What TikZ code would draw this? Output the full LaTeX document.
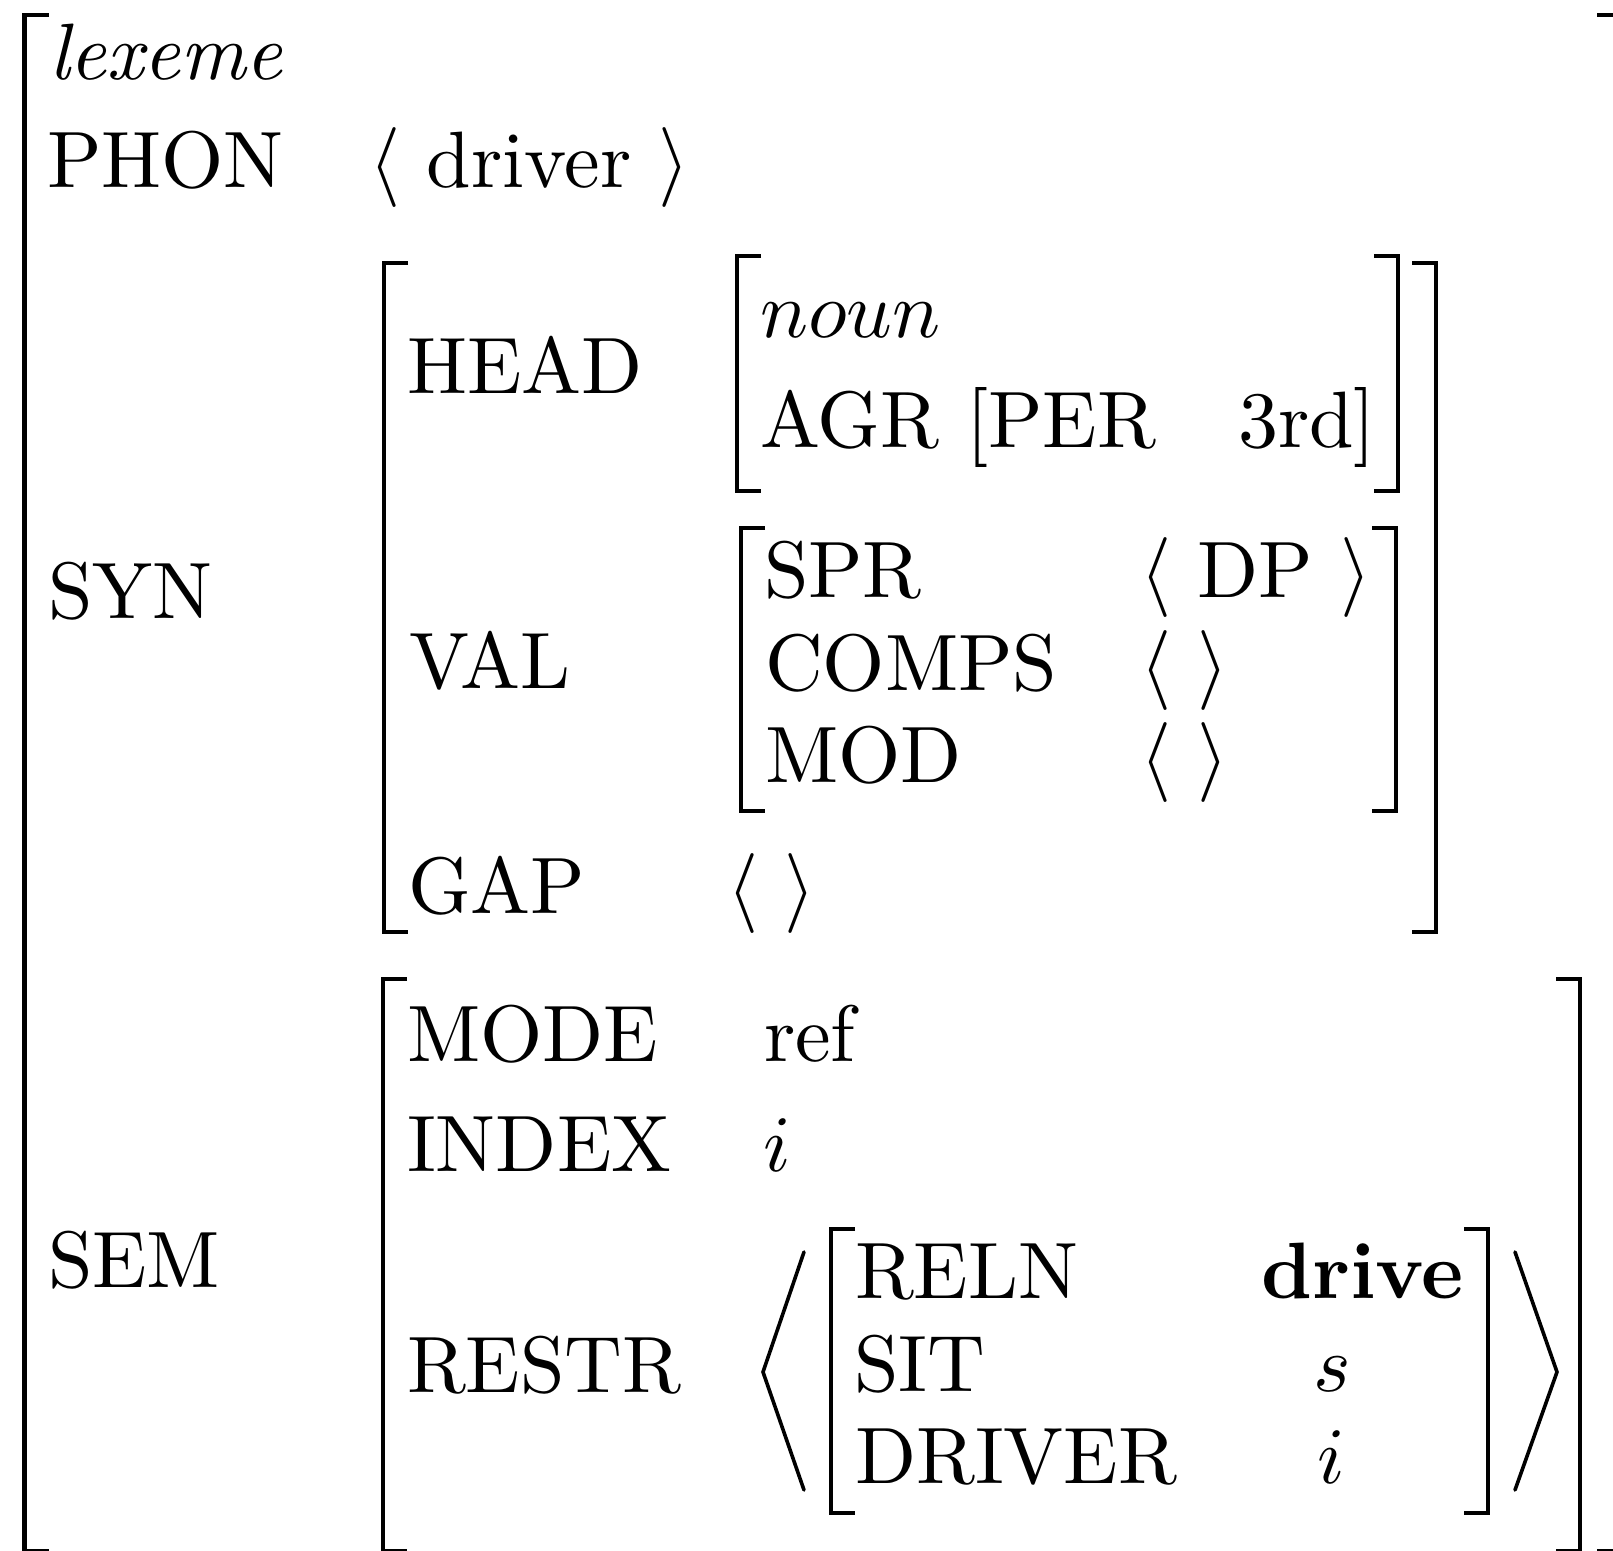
\documentclass[tikz,border=0pt]{standalone}
\tikzset{
  avm/.style={anchor=base west,inner sep=0pt,outer sep=0pt,scale=4},
  brk/.style={line width=2.1pt,line cap=butt,line join=miter},
  ang/.style={line width=1.8pt,line cap=round,line join=miter}
}
\newcommand{\armlen}{24}

\begin{document}
\begin{tikzpicture}[x=0.5pt,y=-0.5pt]
  \useasboundingbox (0,0) rectangle (1613,1551);
  \clip (0,0) rectangle (1613,1551);
  % brackets: left x / right x / top / bottom
  \foreach \l/\r/\t/\b in {24.5/1621/15/1551.5, 384/1436/263/932,
    737/1398/256/491, 741/1396/528/811, 383/1580/979/1551.5, 831/1488/1229/1513}
  {
    \draw[brk] (\l+\armlen,\t) -- (\l,\t) -- (\l,\b) -- (\l+\armlen,\b);
    \draw[brk] (\r-\armlen,\t) -- (\r,\t) -- (\r,\b) -- (\r-\armlen,\b);
  }
  % big angle brackets round the RESTR list
  \draw[ang] (804,1252) -- (763,1372) -- (804,1490);
  \draw[ang] (1515,1252) -- (1557,1372) -- (1515,1490);

  % top level
  \node[avm] (lexeme) at (49,80) {\textit{lexeme}};
  \node[avm] (phon) at (47,188) {PHON};
  \node[avm] (phonval) at (369,188) {$\langle$ driver $\rangle$};
  \node[avm] (syn) at (48,618) {SYN};
  \node[avm] (sem) at (48,1287) {SEM};

  % SYN
  \node[avm] (head) at (407,394) {HEAD};
  \node[avm] (noun) at (760,338) {$noun$};
  \node[avm] (agr) at (760,448) {AGR [PER};
  \node[avm] (per) at (1238,448) {3rd]};
  \node[avm] (val) at (409,689) {VAL};
  \node[avm] (spr) at (764,597) {SPR};
  \node[avm] (comps) at (765,690) {COMPS};
  \node[avm] (mod) at (765,782) {MOD};
  \node[avm] (sprval) at (1140,597) {$\langle$ DP $\rangle$};
  \node[avm] (compsval) at (1140,690) {$\langle$ $\rangle$};
  \node[avm] (modval) at (1140,782) {$\langle$ $\rangle$};
  \node[avm] (gap) at (408,913) {GAP};
  \node[avm] (gapval) at (727,913) {$\langle$ $\rangle$};

  % SEM
  \node[avm] (mode) at (407,1061) {MODE};
  \node[avm] (ref) at (764,1061) {ref};
  \node[avm] (index) at (407,1171) {INDEX};
  \node[avm] (idx) at (763,1171) {$i$};
  \node[avm] (restr) at (407,1392) {RESTR};
  \node[avm] (reln) at (855,1298) {RELN};
  \node[avm] (sit) at (854,1391) {SIT};
  \node[avm] (driver) at (855,1483) {DRIVER};
  \node[avm] (drive) at (1261,1298) {\textbf{drive}};
  \node[avm] (sitval) at (1313,1391) {$s$};
  \node[avm] (drvval) at (1317,1483) {$i$};
\end{tikzpicture}
\end{document}
